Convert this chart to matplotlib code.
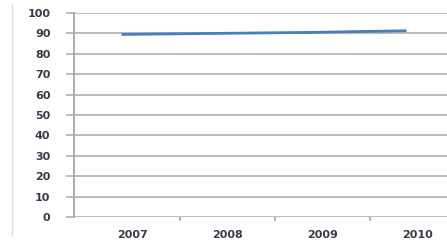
import numpy as np
import matplotlib.pyplot as plt
from matplotlib.lines import Line2D

years = ['2007', '2008', '2009', '2010']
values = [89.5, 90.0, 90.5, 91.3]
yticks = list(range(0, 101, 10))

W, H = 447, 244
fig = plt.figure(figsize=(W / 100, H / 100), dpi=100)
fig.patch.set_facecolor('white')

# axes in pixels: left 74, right 447, bottom 217, top 13
ax = fig.add_axes([74 / W, (H - 217) / H, (W - 74) / W, (217 - 13) / H])
x = np.arange(len(years))
ax.set_xlim(-0.5, -0.5 + (W - 74) / 95)
ax.set_ylim(0, 100)

grid_c = '#bcbcbc'
for s in ['top', 'right', 'bottom']:
    ax.spines[s].set_visible(False)
ax.spines['left'].set_color('#a8a8a8')
ax.spines['left'].set_linewidth(1.3)

ax.set_yticks(yticks)
ax.set_yticklabels([str(v) for v in yticks])
ax.yaxis.grid(True, color=grid_c, linewidth=1.4)
ax.set_axisbelow(True)
ax.tick_params(axis='y', length=6, width=1.4, color=grid_c, pad=11,
               labelsize=8, labelcolor='#3a3a4a')

# category boundary ticks and centred labels (slightly shifted as in reference)
shift = 11 / 95
ax.set_xticks([i + 0.5 + shift for i in range(len(years) - 1)])
ax.set_xticklabels([])
ax.set_xticks([i + shift for i in range(len(years))], minor=True)
ax.set_xticklabels(years, minor=True)
ax.tick_params(axis='x', which='major', length=3, width=1.2, color='#a8a8a8')
ax.tick_params(axis='x', which='minor', length=0, pad=9,
               labelsize=8, labelcolor='#3a3a4a')
for lab in ax.get_xticklabels(minor=True) + ax.get_yticklabels():
    lab.set_fontweight('bold')

ax.plot(x, values, color='#4a7ebb', linewidth=2, solid_capstyle='butt')

# light border on the left of the chart area
fig.add_artist(Line2D([12 / W, 12 / W], [(H - 235) / H, (H - 5) / H],
                      color='#dcdcdc', linewidth=1))

fig.savefig('out.png', dpi=100)
